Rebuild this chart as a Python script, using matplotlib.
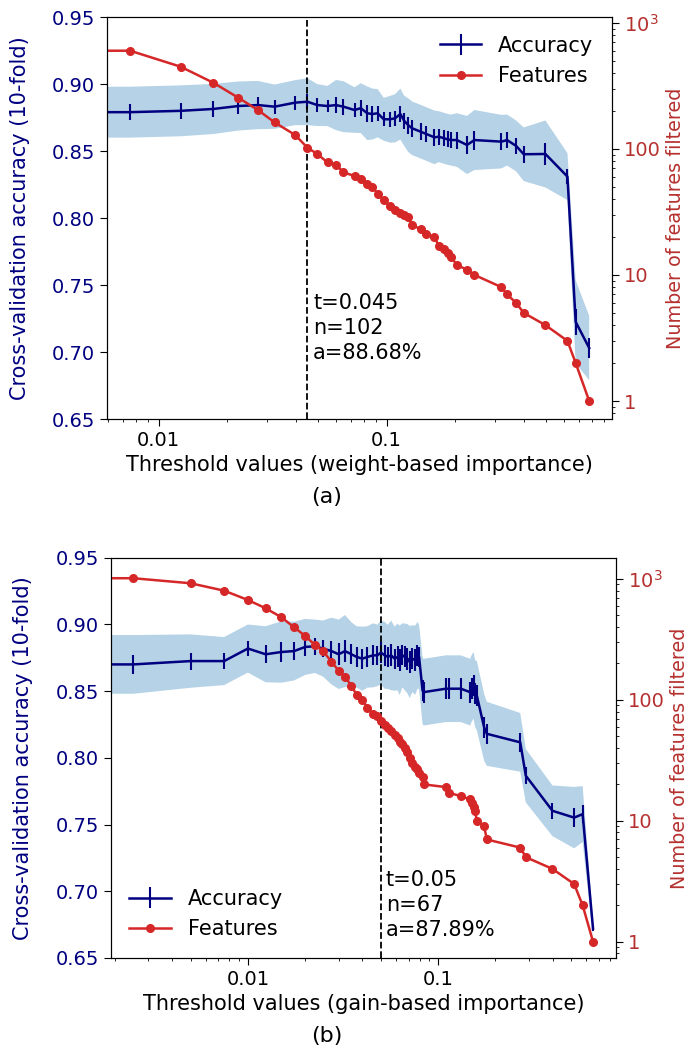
"""
Cross-validation accuracy and number of kept features vs. importance threshold
"""

import numpy as np
import matplotlib
matplotlib.use('Agg')
import matplotlib.pyplot as plt
from matplotlib.ticker import FixedLocator, FuncFormatter, NullFormatter, LogLocator

# (a) weight-based importance
thr_a = [0, 0.0075, 0.0125, 0.0174, 0.0224, 0.0273, 0.0323, 0.0397, 0.045, 0.0497,
         0.0551, 0.0600, 0.0647, 0.0724, 0.0771, 0.0823, 0.0868, 0.0914, 0.0973, 0.1035,
         0.109, 0.115, 0.1195, 0.1244, 0.1294, 0.1414, 0.1495, 0.1623, 0.1695, 0.179,
         0.1855, 0.1915, 0.2035, 0.2255, 0.243, 0.3195, 0.338, 0.3705, 0.40, 0.498,
         0.622, 0.676, 0.775]
feat_a = [600, 600, 448, 334, 254, 203, 162, 129, 102, 91,
          78, 75, 65, 61, 58, 53, 50, 44, 39, 35,
          33, 31, 30, 29, 25, 23, 21, 20, 17, 16,
          15, 14, 12, 11, 10, 8, 7, 6, 5, 4,
          3, 2, 1]
acc_a = [0.879, 0.879, 0.880, 0.8814, 0.8836, 0.8843, 0.8831, 0.8861, 0.8868, 0.8843,
         0.8836, 0.8843, 0.8831, 0.8806, 0.8820, 0.8782, 0.8776, 0.8782, 0.8737, 0.8737,
         0.8744, 0.8776, 0.8726, 0.8694, 0.8670, 0.8644, 0.8627, 0.8602, 0.8607, 0.8595,
         0.8587, 0.8582, 0.8582, 0.8545, 0.8582, 0.8570, 0.8582, 0.8538, 0.8476, 0.8478,
         0.8309, 0.7225, 0.7030]
std_a = [0.019, 0.019, 0.019, 0.0187, 0.0183, 0.018, 0.0165, 0.0168, 0.0175, 0.0156,
         0.015, 0.0187, 0.019, 0.017, 0.0186, 0.020, 0.019, 0.018, 0.016, 0.0174,
         0.018, 0.019, 0.0187, 0.020, 0.020, 0.020, 0.020, 0.020, 0.019, 0.019,
         0.019, 0.019, 0.020, 0.0217, 0.0224, 0.020, 0.019, 0.019, 0.020, 0.025,
         0.0175, 0.031, 0.024]

# (b) gain-based importance
thr_b = [0, 0.0025, 0.005, 0.0075, 0.010, 0.0124, 0.015, 0.0175, 0.020, 0.0225,
         0.0248, 0.0275, 0.030, 0.0324, 0.035, 0.0373, 0.040, 0.0425, 0.0455, 0.048,
         0.050, 0.0524, 0.0543, 0.0566, 0.0591, 0.0612, 0.0628, 0.0649, 0.0668, 0.0690,
         0.0709, 0.0733, 0.0757, 0.0779, 0.0794, 0.0828, 0.0838, 0.1098, 0.1143, 0.1316,
         0.1474, 0.1498, 0.1536, 0.1565, 0.1597, 0.1745, 0.1803, 0.2702, 0.289, 0.399,
         0.5186, 0.575, 0.652]
feat_b = [1014, 1014, 921, 800, 670, 572, 482, 398, 338, 285,
          254, 207, 174, 155, 131, 110, 100, 86, 77, 73,
          67, 62, 58, 55, 51, 48, 45, 43, 40, 37,
          33, 30, 28, 27, 25, 23, 20, 19, 17, 16,
          15, 14, 13, 12, 10, 9, 7, 6, 5, 4,
          3, 2, 1]
acc_b = [0.870, 0.870, 0.8725, 0.8725, 0.8819, 0.8776, 0.8793, 0.880, 0.8831, 0.8836,
         0.8819, 0.880, 0.8776, 0.880, 0.8776, 0.8756, 0.8743, 0.8756, 0.8768, 0.8768,
         0.8789, 0.8768, 0.8756, 0.8768, 0.8743, 0.8756, 0.8731, 0.8768, 0.8756, 0.8743,
         0.8718, 0.8743, 0.8731, 0.8768, 0.8756, 0.8505, 0.8492, 0.8518, 0.8518, 0.8518,
         0.8492, 0.8518, 0.8543, 0.848, 0.8467, 0.8229, 0.818, 0.8116, 0.7866, 0.7603,
         0.7552, 0.7578, 0.672]
std_b = [0.022, 0.022, 0.020, 0.018, 0.018, 0.021, 0.023, 0.022, 0.021, 0.020,
         0.021, 0.025, 0.026, 0.027, 0.024, 0.023, 0.024, 0.023, 0.024, 0.023,
         0.024, 0.025, 0.024, 0.026, 0.024, 0.025, 0.026, 0.024, 0.025, 0.026,
         0.027, 0.025, 0.026, 0.025, 0.024, 0.025, 0.025, 0.025, 0.025, 0.025,
         0.025, 0.025, 0.025, 0.025, 0.026, 0.025, 0.024, 0.022, 0.020, 0.019,
         0.023, 0.021, 0.006]

acc_ticks = [0.65, 0.70, 0.75, 0.80, 0.85, 0.90, 0.95]
feat_ticks = [1, 10, 100, 1000]
feat_tick_labels = ['1', '10', '100', '$10^3$']

ACC_COLOR = '#000080'
BAND_COLOR = '#1f77b4'
FEAT_COLOR = '#d62728'
FEAT_TEXT = '#b5312f'
TICK_FS = 14
LABEL_FS = 15


def plot_panel(ax, thr, acc, std, feat, t_best, n_best, xlim, feat_ylim,
               xlabel, legend_loc, text_y):
    """Accuracy band + error bars on the left axis, feature count on the right"""
    thr = np.array(thr)
    acc = np.array(acc)
    std = np.array(std)
    best = acc[np.argmin(np.abs(thr - t_best))]

    ax.set_xscale('log')
    ax.fill_between(thr, acc - std, acc + std, color=BAND_COLOR, alpha=0.33, lw=0)
    eb = ax.errorbar(thr, acc, yerr=std / np.sqrt(10), color=ACC_COLOR, lw=1.8,
                     elinewidth=1.5, capsize=0, label='Accuracy')
    ax.axvline(t_best, color='k', ls='--', lw=1.3)
    ax.text(t_best * 1.06, text_y, f't={t_best:g}\nn={n_best}\na={best * 100:.2f}%',
            va='top', ha='left', fontsize=LABEL_FS, linespacing=1.32)

    ax.set_xlim(*xlim)
    ax.set_ylim(0.65, 0.95)
    ax.yaxis.set_major_locator(FixedLocator(acc_ticks))
    ax.yaxis.set_major_formatter(FuncFormatter(lambda v, p: f'{v:.2f}'))
    ax.xaxis.set_major_locator(LogLocator(base=10))
    ax.xaxis.set_major_formatter(FuncFormatter(lambda v, p: f'{v:g}'))
    ax.xaxis.set_minor_formatter(NullFormatter())
    ax.tick_params(axis='y', labelcolor=ACC_COLOR, labelsize=TICK_FS, length=5)
    ax.tick_params(axis='x', labelsize=TICK_FS, length=5)
    ax.set_ylabel('Cross-validation accuracy (10-fold)', color=ACC_COLOR,
                  fontsize=LABEL_FS, labelpad=16)
    ax.set_xlabel(xlabel, fontsize=LABEL_FS, labelpad=4)

    ax2 = ax.twinx()
    ax2.set_yscale('log')
    ln, = ax2.plot(thr, feat, '-o', color=FEAT_COLOR, ms=5.5, lw=1.8, label='Features')
    ax2.set_ylim(*feat_ylim)
    ax2.yaxis.set_major_locator(FixedLocator(feat_ticks))
    ax2.yaxis.set_major_formatter(FuncFormatter(
        lambda v, p: feat_tick_labels[feat_ticks.index(round(v))] if round(v) in feat_ticks else ''))
    ax2.yaxis.set_minor_formatter(NullFormatter())
    ax2.tick_params(axis='y', labelcolor=FEAT_TEXT, labelsize=TICK_FS, length=5)
    ax2.set_ylabel('Number of features filtered', color=FEAT_TEXT,
                   fontsize=13.8, labelpad=4)

    ax2.legend([eb, ln], ['Accuracy', 'Features'], loc=legend_loc, frameon=False,
               fontsize=LABEL_FS)
    return ax2


fig = plt.figure(figsize=(6.94, 10.51), dpi=100)
ax_a = fig.add_axes([0.1542, 0.6013, 0.7277, 0.3825])
ax_b = fig.add_axes([0.1595, 0.0885, 0.7281, 0.3809])

plot_panel(ax_a, thr_a, acc_a, std_a, feat_a, 0.045, 102, (0.00594, 0.976), (0.72, 1110),
           'Threshold values (weight-based importance)', 'upper right', 0.744)
plot_panel(ax_b, thr_b, acc_b, std_b, feat_b, 0.05, 67, (0.0019, 0.861), (0.733, 1500),
           'Threshold values (gain-based importance)', 'lower left', 0.716)

fig.text(327 / 694, 1 - 497 / 1051, '(a)', ha='center', va='center', fontsize=16)
fig.text(327 / 694, 1 - 1036 / 1051, '(b)', ha='center', va='center', fontsize=16)

fig.savefig('out.png', dpi=100)
plt.close(fig)
